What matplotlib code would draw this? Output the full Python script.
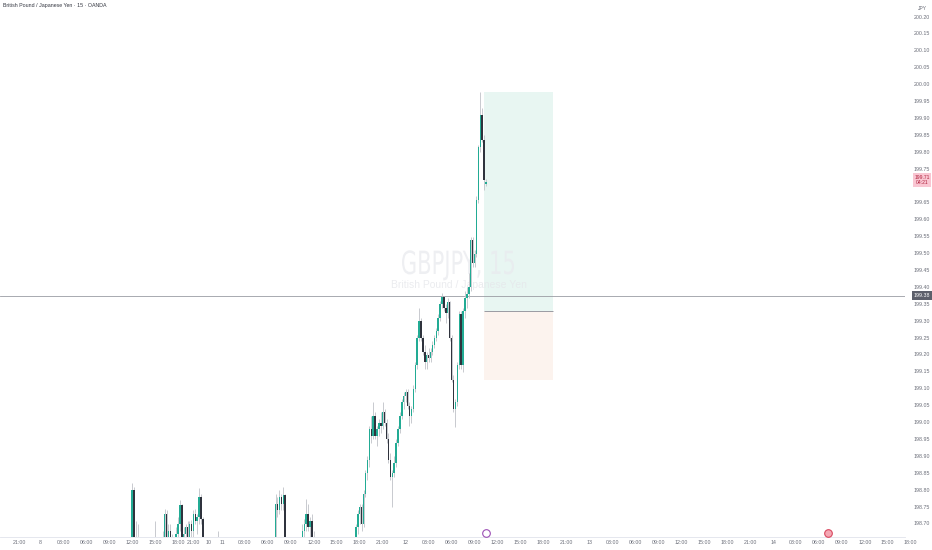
import numpy as np
import matplotlib
matplotlib.use("Agg")
import matplotlib.pyplot as plt
from matplotlib.patches import Rectangle, PathPatch
from matplotlib.textpath import TextPath
from matplotlib.font_manager import FontProperties
import matplotlib.transforms as mtransforms

plt.rcParams['font.family'] = ['Liberation Sans Narrow', 'Liberation Sans', 'DejaVu Sans']

# GBPJPY 15 min - bars from index 56 to 244 (index 0 = the first "21:00" label)
first_bar = 56

opens = [
    198.52, 198.54, 198.55, 198.57, 198.80, 198.60, 198.63, 198.60, 198.55, 198.57,
    198.58, 198.56, 198.52, 198.55, 198.59, 198.62, 198.64, 198.58, 198.60, 198.63,
    198.65, 198.73, 198.62, 198.68, 198.64, 198.61, 198.64, 198.67, 198.70, 198.755,
    198.65, 198.67, 198.69, 198.66, 198.70, 198.68, 198.73, 198.71, 198.72, 198.78,
    198.715, 198.58, 198.52, 198.48, 198.50, 198.53, 198.55, 198.57, 198.59, 198.60,
    198.54, 198.50, 198.47, 198.49, 198.52, 198.54, 198.51, 198.48, 198.50, 198.53,
    198.56, 198.53, 198.50, 198.47, 198.45, 198.48, 198.51, 198.55, 198.57, 198.55,
    198.52, 198.54, 198.57, 198.59, 198.57, 198.58, 198.61, 198.60, 198.62, 198.76,
    198.74, 198.78, 198.76, 198.785, 198.60, 198.58, 198.56, 198.54, 198.52, 198.55,
    198.58, 198.61, 198.63, 198.68, 198.70, 198.73, 198.69, 198.71, 198.66, 198.60,
    198.56, 198.53, 198.50, 198.47, 198.44, 198.46, 198.49, 198.47, 198.45, 198.48,
    198.51, 198.49, 198.46, 198.49, 198.52, 198.54, 198.52, 198.55, 198.58, 198.61,
    198.64, 198.69, 198.73, 198.75, 198.70, 198.79, 198.85, 198.89, 198.98, 198.96,
    199.02, 198.96, 198.98, 199.00, 198.99, 199.03, 199.00, 198.95, 198.89, 198.84,
    198.85, 198.88, 198.94, 198.98, 199.02, 199.06, 199.08, 199.09, 199.05, 199.02,
    199.04, 199.10, 199.17, 199.25, 199.30, 199.25, 199.21, 199.18, 199.20, 199.19,
    199.21, 199.23, 199.25, 199.27, 199.31, 199.35, 199.372, 199.34, 199.324, 199.357,
    199.25, 199.126, 199.04, 199.06, 199.17, 199.32, 199.17, 199.33, 199.37, 199.38,
    199.40, 199.54, 199.472, 199.50, 199.66, 199.815, 199.91, 199.836, 199.705,
]
highs = [
    198.56, 198.58, 198.60, 198.82, 198.81, 198.71, 198.70, 198.64, 198.60, 198.62,
    198.63, 198.60, 198.57, 198.61, 198.65, 198.71, 198.66, 198.62, 198.65, 198.68,
    198.745, 198.74, 198.70, 198.70, 198.67, 198.66, 198.69, 198.72, 198.77, 198.76,
    198.69, 198.70, 198.71, 198.71, 198.712, 198.74, 198.745, 198.73, 198.807, 198.79,
    198.72, 198.60, 198.55, 198.52, 198.56, 198.58, 198.60, 198.62, 198.68, 198.63,
    198.58, 198.54, 198.52, 198.55, 198.57, 198.58, 198.55, 198.53, 198.56, 198.59,
    198.60, 198.57, 198.54, 198.51, 198.50, 198.53, 198.57, 198.60, 198.62, 198.59,
    198.56, 198.59, 198.62, 198.63, 198.61, 198.63, 198.65, 198.64, 198.79, 198.78,
    198.80, 198.79, 198.81, 198.79, 198.63, 198.62, 198.60, 198.58, 198.57, 198.60,
    198.64, 198.66, 198.70, 198.715, 198.775, 198.76, 198.72, 198.73, 198.68, 198.63,
    198.60, 198.57, 198.54, 198.51, 198.49, 198.52, 198.54, 198.51, 198.50, 198.53,
    198.56, 198.53, 198.51, 198.55, 198.57, 198.58, 198.57, 198.60, 198.63, 198.66,
    198.70, 198.74, 198.76, 198.76, 198.80, 198.86, 198.90, 198.99, 199.02, 199.06,
    199.03, 198.99, 199.01, 199.03, 199.06, 199.04, 199.01, 198.97, 198.91, 198.86,
    198.90, 198.95, 198.99, 199.03, 199.07, 199.09, 199.10, 199.10, 199.06, 199.05,
    199.11, 199.18, 199.26, 199.34, 199.31, 199.26, 199.23, 199.21, 199.22, 199.22,
    199.24, 199.26, 199.28, 199.32, 199.36, 199.383, 199.375, 199.35, 199.369, 199.36,
    199.26, 199.14, 199.07, 199.18, 199.33, 199.33, 199.34, 199.39, 199.40, 199.443,
    199.55, 199.55, 199.51, 199.67, 199.82, 199.978, 199.93, 199.85, 199.72,
]
lows = [
    198.48, 198.50, 198.52, 198.55, 198.58, 198.56, 198.58, 198.52, 198.50, 198.53,
    198.54, 198.50, 198.48, 198.52, 198.56, 198.60, 198.56, 198.54, 198.57, 198.60,
    198.63, 198.60, 198.59, 198.62, 198.58, 198.57, 198.61, 198.64, 198.68, 198.62,
    198.60, 198.63, 198.64, 198.64, 198.66, 198.66, 198.70, 198.67, 198.70, 198.70,
    198.55, 198.50, 198.45, 198.44, 198.47, 198.49, 198.51, 198.53, 198.56, 198.52,
    198.48, 198.44, 198.42, 198.45, 198.48, 198.49, 198.46, 198.43, 198.47, 198.50,
    198.51, 198.48, 198.45, 198.42, 198.41, 198.44, 198.48, 198.52, 198.53, 198.50,
    198.47, 198.51, 198.54, 198.55, 198.53, 198.55, 198.57, 198.56, 198.60, 198.72,
    198.73, 198.74, 198.74, 198.58, 198.55, 198.53, 198.51, 198.49, 198.48, 198.52,
    198.55, 198.58, 198.61, 198.65, 198.68, 198.68, 198.66, 198.64, 198.58, 198.54,
    198.51, 198.48, 198.45, 198.42, 198.40, 198.43, 198.45, 198.42, 198.41, 198.45,
    198.47, 198.44, 198.42, 198.46, 198.49, 198.50, 198.49, 198.52, 198.55, 198.58,
    198.62, 198.67, 198.70, 198.68, 198.69, 198.78, 198.83, 198.87, 198.94, 198.95,
    198.95, 198.93, 198.96, 198.97, 198.98, 198.99, 198.94, 198.88, 198.83, 198.75,
    198.84, 198.87, 198.93, 198.97, 199.01, 199.04, 199.06, 199.04, 198.99, 199.00,
    199.03, 199.09, 199.16, 199.24, 199.24, 199.20, 199.16, 199.16, 199.18, 199.18,
    199.20, 199.22, 199.24, 199.26, 199.30, 199.34, 199.33, 199.295, 199.31, 199.24,
    199.12, 199.03, 198.987, 199.05, 199.16, 199.16, 199.15, 199.31, 199.34, 199.37,
    199.39, 199.46, 199.46, 199.49, 199.65, 199.80, 199.83, 199.688, 199.70,
]
closes = [
    198.54, 198.55, 198.57, 198.80, 198.60, 198.63, 198.60, 198.55, 198.57, 198.58,
    198.56, 198.52, 198.55, 198.59, 198.62, 198.64, 198.58, 198.60, 198.63, 198.65,
    198.73, 198.62, 198.68, 198.64, 198.61, 198.64, 198.67, 198.70, 198.755, 198.65,
    198.67, 198.69, 198.66, 198.70, 198.68, 198.73, 198.71, 198.72, 198.78, 198.715,
    198.58, 198.52, 198.48, 198.50, 198.53, 198.55, 198.57, 198.59, 198.60, 198.54,
    198.50, 198.47, 198.49, 198.52, 198.54, 198.51, 198.48, 198.50, 198.53, 198.56,
    198.53, 198.50, 198.47, 198.45, 198.48, 198.51, 198.55, 198.57, 198.55, 198.52,
    198.54, 198.57, 198.59, 198.57, 198.58, 198.61, 198.60, 198.62, 198.76, 198.74,
    198.78, 198.76, 198.785, 198.60, 198.58, 198.56, 198.54, 198.52, 198.55, 198.58,
    198.61, 198.63, 198.68, 198.70, 198.73, 198.69, 198.71, 198.66, 198.60, 198.56,
    198.53, 198.50, 198.47, 198.44, 198.46, 198.49, 198.47, 198.45, 198.48, 198.51,
    198.49, 198.46, 198.49, 198.52, 198.54, 198.52, 198.55, 198.58, 198.61, 198.64,
    198.69, 198.73, 198.75, 198.70, 198.79, 198.85, 198.89, 198.98, 198.96, 199.02,
    198.96, 198.98, 199.00, 198.99, 199.03, 199.00, 198.95, 198.89, 198.84, 198.85,
    198.88, 198.94, 198.98, 199.02, 199.06, 199.08, 199.09, 199.05, 199.02, 199.04,
    199.10, 199.17, 199.25, 199.30, 199.25, 199.21, 199.18, 199.20, 199.19, 199.21,
    199.23, 199.25, 199.27, 199.31, 199.35, 199.372, 199.34, 199.324, 199.357, 199.25,
    199.126, 199.04, 199.06, 199.17, 199.32, 199.17, 199.33, 199.37, 199.38, 199.40,
    199.54, 199.472, 199.50, 199.66, 199.815, 199.91, 199.836, 199.718, 199.712,
]

# time axis labels (bar index, text)
time_ticks = [0, 11, 23, 35, 47, 59, 71, 83, 91, 99, 106, 118, 130, 142, 154, 166, 178, 190,
              202, 214, 226, 238, 250, 262, 274, 286, 298, 310, 322, 334, 346, 358, 370, 382,
              394, 406, 418, 430, 442, 454, 466]
time_labels = ["21:00", "8", "03:00", "06:00", "09:00", "12:00", "15:00", "18:00", "21:00", "10",
               "11", "03:00", "06:00", "09:00", "12:00", "15:00", "18:00", "21:00",
               "12", "03:00", "06:00", "09:00", "12:00", "15:00", "18:00", "21:00",
               "13", "03:00", "06:00", "09:00", "12:00", "15:00", "18:00", "21:00",
               "14", "03:00", "06:00", "09:00", "12:00", "15:00", "18:00"]

# long position tool
pos_start, pos_end = 243, 279
entry_price = 199.33
target_price = 199.978
stop_price = 199.126
hline_price = 199.376
last_price = 199.71
countdown = "04:21"
event_bars = [244, 423]

opens = np.array(opens); highs = np.array(highs)
lows = np.array(lows); closes = np.array(closes)
x = first_bar + np.arange(len(closes))

UP = "#22ab94"
DOWN = "#2f333d"
WICK = "#bfc2c8"
GREY_TXT = "#6a6d78"

fig = plt.figure(figsize=(9.32, 5.5), dpi=100)
ax = fig.add_axes([0, 13 / 550, 905 / 932, 537 / 550])
ax.set_xlim(-10.04, 463.0)
ax.set_ylim(198.6615, 200.2503)

# watermark (tall, narrow lettering like the reference)
wm_path = TextPath((0, 0), "GBPJPY, 15", size=32, prop=FontProperties(family="DejaVu Sans"))
bb = wm_path.get_extents()
sx = 112 / bb.width
wm_tr = (mtransforms.Affine2D().translate(-bb.x0 - bb.width / 2, 0).scale(sx, 1)
         .translate(458, 550 - 274))
ax.add_patch(PathPatch(wm_path, transform=wm_tr, facecolor="#e9eaee", edgecolor="none",
                       alpha=0.75, zorder=2))
ax.text(0.507, 0.469, "British Pound / Japanese Yen", transform=ax.transAxes, ha="center",
        va="center", fontsize=7.5, color="#e6e7eb", alpha=0.8, zorder=2)

# position boxes
ax.add_patch(Rectangle((pos_start, entry_price), pos_end - pos_start, target_price - entry_price,
                       facecolor="#e8f6f2", edgecolor="none", zorder=1))
ax.add_patch(Rectangle((pos_start, stop_price), pos_end - pos_start, entry_price - stop_price,
                       facecolor="#fcf3ee", edgecolor="none", zorder=1))
ax.hlines(entry_price, pos_start, pos_end, color="#8a8d96", lw=0.6, zorder=2)

# horizontal line
ax.axhline(hline_price, color="#9a9ca3", lw=0.6, zorder=2)

# candles
up = closes >= opens
ax.vlines(x, lows, highs, color=WICK, lw=0.6, zorder=3)
body_lo = np.minimum(opens, closes)
body_h = np.maximum(np.abs(closes - opens), 0.002)
ax.bar(x[up], body_h[up], bottom=body_lo[up], width=0.75, color=UP, lw=0, zorder=4)
ax.bar(x[~up], body_h[~up], bottom=body_lo[~up], width=0.75, color=DOWN, lw=0, zorder=4)

# event markers
ev_tr = mtransforms.blended_transform_factory(ax.transData, ax.transAxes)
ax.plot(event_bars[0], 0.008, marker="o", ms=5.5, mfc="white", mec="#9c4fb5", mew=0.8,
        transform=ev_tr, clip_on=False, zorder=6)
ax.plot(event_bars[1], 0.008, marker="o", ms=5.5, mfc="#f4a8b4", mec="#d9485f", mew=0.8,
        transform=ev_tr, clip_on=False, zorder=6)

# axes look
for s in ["top", "left", "right"]:
    ax.spines[s].set_visible(False)
ax.spines["bottom"].set_color("#e0e3eb")
ax.spines["bottom"].set_linewidth(0.6)
ax.set_xticks([])
ax.set_yticks([])

# time labels
for t, lab in zip(time_ticks, time_labels):
    ax.text(t, -0.011, lab, transform=ax.get_xaxis_transform(), ha="center", va="center",
            fontsize=3.8, color=GREY_TXT, clip_on=False)

# price scale labels (199.70 sits under the last-price label)
price_tr = mtransforms.blended_transform_factory(ax.transAxes, ax.transData)
price_ticks = np.round(np.arange(198.70, 200.201, 0.05), 2)
for p in price_ticks:
    if abs(p - last_price) < 0.02:
        continue
    ax.text(922 / 905, p, f"{p:.2f}", transform=price_tr, ha="center", va="center",
            fontsize=3.8, color=GREY_TXT, clip_on=False)

# last price label + countdown
ax.text(922 / 905, last_price + 0.008, f"{last_price:.2f}\n{countdown}", transform=price_tr,
        ha="center", va="center", fontsize=3.6, color="#b0243f", linespacing=1.1,
        bbox=dict(boxstyle="square,pad=0.35", fc="#f9c6d2", ec="none"), clip_on=False, zorder=7)
# horizontal line label
ax.text(922 / 905, hline_price, f"{hline_price:.2f}", transform=price_tr, ha="center",
        va="center", fontsize=3.8, color="white",
        bbox=dict(boxstyle="square,pad=0.3", fc="#5d606b", ec="none"), clip_on=False, zorder=7)

fig.text(922 / 932, 1 - 8 / 550, "JPY", ha="center", va="center", fontsize=3.6, color=GREY_TXT)
fig.text(3 / 932, 1 - 5 / 550, "British Pound / Japanese Yen · 15 · OANDA", ha="left",
         va="center", fontsize=3.8, color="#333640")

fig.savefig("out.png", dpi=100, facecolor="white")
